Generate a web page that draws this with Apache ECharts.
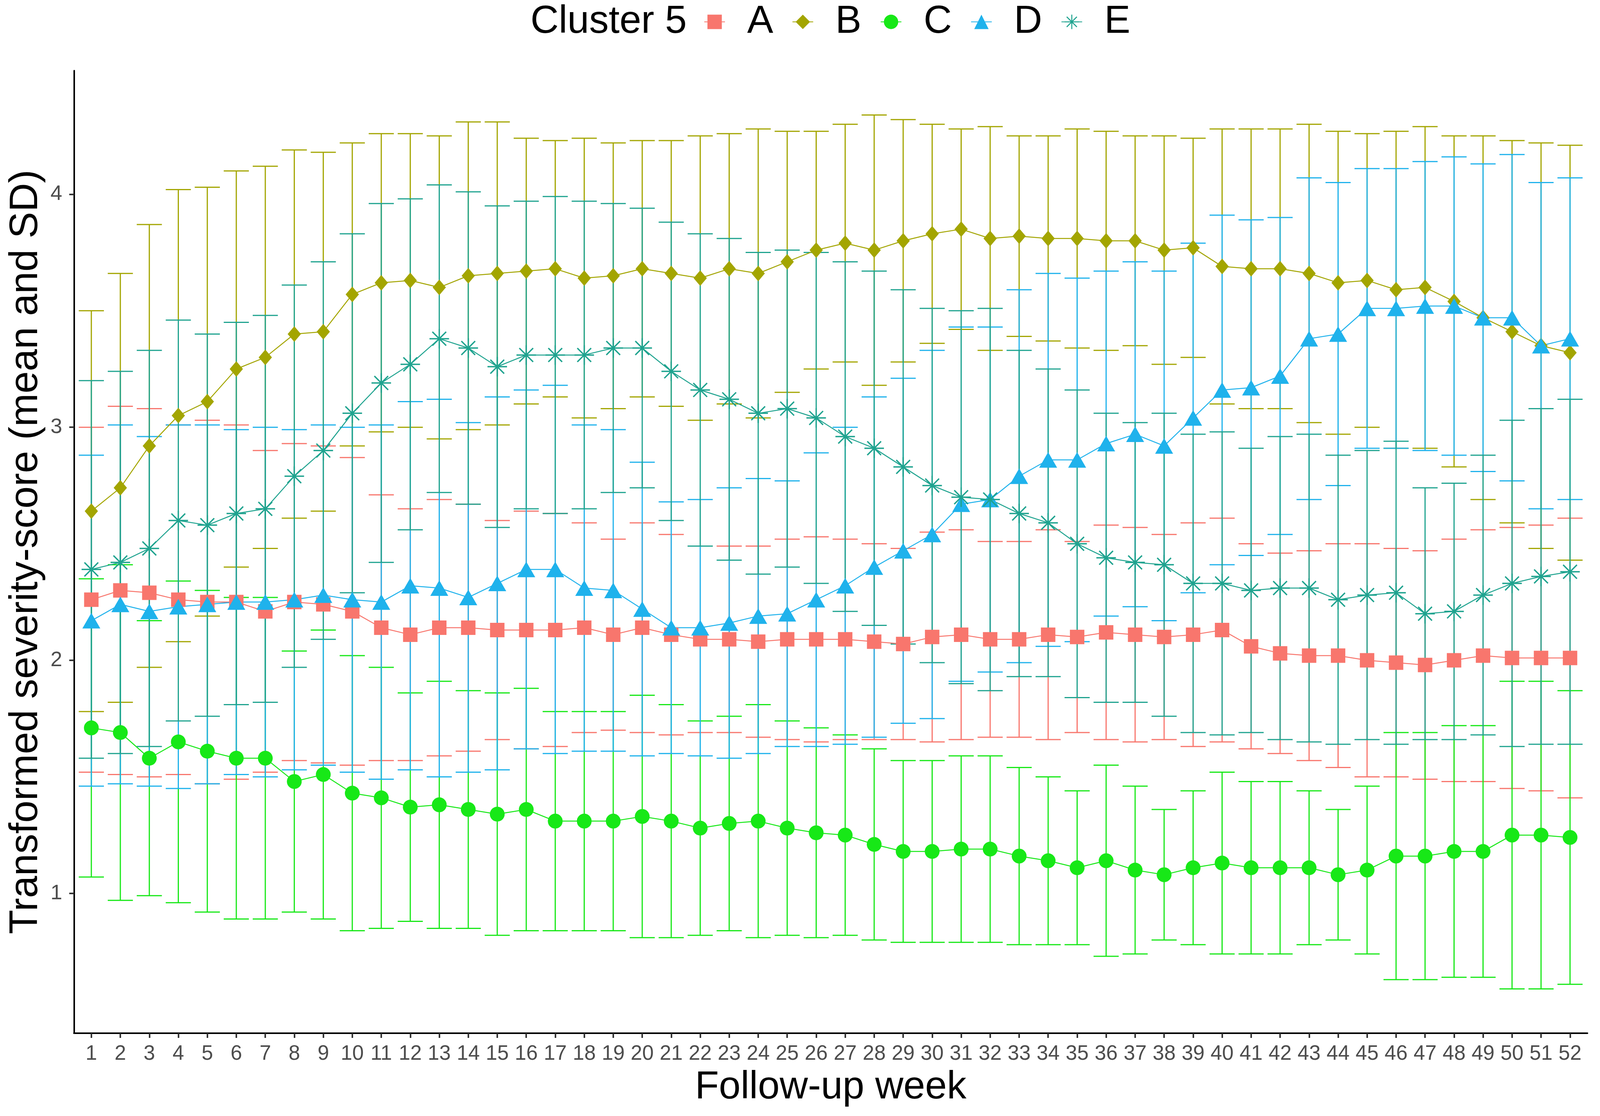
<!DOCTYPE html>
<html>
<head>
<meta charset="utf-8">
<title>Cluster 5</title>
<script src="https://cdn.jsdelivr.net/npm/echarts@6/dist/echarts.min.js"></script>
<style>
  html, body { margin: 0; padding: 0; background: #fff; overflow: hidden; }
  #main { width: 100vw; height: 100vh; }
</style>
</head>
<body>
<div id="main"></div>
<script>
// follow-up weeks
var weeks = [1,2,3,4,5,6,7,8,9,10,11,12,13,14,15,16,17,18,19,20,21,22,23,24,25,26,
             27,28,29,30,31,32,33,34,35,36,37,38,39,40,41,42,43,44,45,46,47,48,49,50,51,52];
var yTicks = [1, 2, 3, 4];
var clusters = ['A', 'B', 'C', 'D', 'E'];

// mean and SD per cluster
var meanA = [2.26,2.30,2.29,2.26,2.25,2.25,2.21,2.25,2.24,2.21,2.14,2.11,2.14,2.14,2.13,2.13,2.13,2.14,2.11,2.14,2.11,2.09,2.09,2.08,2.09,2.09,
             2.09,2.08,2.07,2.10,2.11,2.09,2.09,2.11,2.10,2.12,2.11,2.10,2.11,2.13,2.06,2.03,2.02,2.02,2.00,1.99,1.98,2.00,2.02,2.01,2.01,2.01];
var sdA   = [0.74,0.79,0.79,0.75,0.78,0.76,0.69,0.68,0.68,0.66,0.57,0.54,0.55,0.53,0.47,0.51,0.50,0.45,0.41,0.45,0.43,0.40,0.40,0.41,0.43,0.44,
             0.43,0.42,0.41,0.45,0.45,0.42,0.42,0.45,0.41,0.46,0.46,0.44,0.48,0.48,0.44,0.43,0.45,0.48,0.50,0.49,0.49,0.52,0.54,0.56,0.57,0.60];
var meanB = [2.64,2.74,2.92,3.05,3.11,3.25,3.30,3.40,3.41,3.57,3.62,3.63,3.60,3.65,3.66,3.67,3.68,3.64,3.65,3.68,3.66,3.64,3.68,3.66,3.71,3.76,
             3.79,3.76,3.80,3.83,3.85,3.81,3.82,3.81,3.81,3.80,3.80,3.76,3.77,3.69,3.68,3.68,3.66,3.62,3.63,3.59,3.60,3.54,3.47,3.41,3.35,3.32];
var sdB   = [0.86,0.92,0.95,0.97,0.92,0.85,0.82,0.79,0.77,0.65,0.64,0.63,0.65,0.66,0.65,0.57,0.55,0.60,0.57,0.55,0.57,0.61,0.58,0.62,0.56,0.51,
             0.51,0.58,0.52,0.47,0.43,0.48,0.43,0.44,0.47,0.47,0.45,0.49,0.47,0.59,0.60,0.60,0.64,0.65,0.63,0.68,0.69,0.71,0.78,0.82,0.87,0.89];
var meanC = [1.71,1.69,1.58,1.65,1.61,1.58,1.58,1.48,1.51,1.43,1.41,1.37,1.38,1.36,1.34,1.36,1.31,1.31,1.31,1.33,1.31,1.28,1.30,1.31,1.28,1.26,
             1.25,1.21,1.18,1.18,1.19,1.19,1.16,1.14,1.11,1.14,1.10,1.08,1.11,1.13,1.11,1.11,1.11,1.08,1.10,1.16,1.16,1.18,1.18,1.25,1.25,1.24];
var sdC   = [0.64,0.72,0.59,0.69,0.69,0.69,0.69,0.56,0.62,0.59,0.56,0.49,0.53,0.51,0.52,0.52,0.47,0.47,0.47,0.52,0.50,0.46,0.46,0.50,0.46,0.45,
             0.43,0.41,0.39,0.39,0.40,0.40,0.38,0.36,0.33,0.41,0.36,0.28,0.33,0.39,0.37,0.37,0.33,0.28,0.36,0.53,0.53,0.54,0.54,0.66,0.66,0.63];
var meanD = [2.17,2.24,2.21,2.23,2.24,2.25,2.25,2.26,2.28,2.26,2.25,2.32,2.31,2.27,2.33,2.39,2.39,2.31,2.30,2.22,2.14,2.14,2.16,2.19,2.20,2.26,
             2.32,2.40,2.47,2.54,2.67,2.69,2.79,2.86,2.86,2.93,2.97,2.92,3.04,3.16,3.17,3.22,3.38,3.40,3.51,3.51,3.52,3.52,3.47,3.47,3.35,3.38];
var sdD   = [0.71,0.77,0.75,0.78,0.77,0.74,0.75,0.73,0.73,0.74,0.76,0.79,0.81,0.75,0.80,0.77,0.79,0.70,0.69,0.63,0.54,0.55,0.58,0.59,0.57,0.63,
             0.68,0.73,0.74,0.79,0.76,0.74,0.80,0.80,0.78,0.74,0.74,0.75,0.75,0.75,0.72,0.68,0.69,0.65,0.60,0.60,0.62,0.64,0.66,0.70,0.70,0.69];
var meanE = [2.39,2.42,2.48,2.60,2.58,2.63,2.65,2.79,2.90,3.06,3.19,3.27,3.38,3.34,3.26,3.31,3.31,3.31,3.34,3.34,3.24,3.16,3.12,3.06,3.08,3.04,
             2.96,2.91,2.83,2.75,2.70,2.69,2.63,2.59,2.50,2.44,2.42,2.41,2.33,2.33,2.30,2.31,2.31,2.26,2.28,2.29,2.20,2.21,2.28,2.33,2.36,2.38];
var sdE   = [0.81,0.82,0.85,0.86,0.82,0.82,0.83,0.82,0.81,0.77,0.77,0.71,0.66,0.67,0.69,0.66,0.68,0.66,0.62,0.60,0.64,0.67,0.69,0.69,0.68,0.71,
             0.75,0.76,0.76,0.76,0.80,0.82,0.70,0.66,0.66,0.62,0.60,0.65,0.64,0.65,0.61,0.65,0.66,0.62,0.62,0.65,0.54,0.55,0.60,0.70,0.72,0.74];

var means = [meanA, meanB, meanC, meanD, meanE];
var sds = [sdA, sdB, sdC, sdD, sdE];
var colors = ['#F8766D', '#A3A500', '#17E817', '#1FB2EC', '#1FA38F'];
var FONT = 'Liberation Sans, Arial, sans-serif';

// asterisk (ggplot shape 8): four thin spokes
function asteriskPath(h) {
  var d = '';
  [0, 45, 90, 135].forEach(function (deg) {
    var a = deg * Math.PI / 180, c = Math.cos(a), s = Math.sin(a);
    var px = -s * h, py = c * h;
    var p = [[c + px, s + py], [c - px, s - py], [-c - px, -s - py], [-c + px, -s + py]];
    d += 'M' + p.map(function (q) { return q[0].toFixed(3) + ' ' + q[1].toFixed(3); }).join(' L') + ' Z ';
  });
  return 'path://' + d;
}

var symbols = ['rect', 'diamond', 'circle', 'triangle', asteriskPath(0.07)];
var symbolSizes = [37, [34, 40], 38, [46, 40], 50];

var myChart = echarts.init(document.getElementById('main'));
// the layout was measured on a 4328 px wide picture; scale x positions to the real width
var sx = myChart.getWidth() / 4328;
var series = [];

// error bars first, so the lines and points sit on top
clusters.forEach(function (name, i) {
  var bars = weeks.map(function (w, j) {
    return [w, means[i][j] - sds[i][j], means[i][j] + sds[i][j]];
  });
  series.push({
    type: 'custom',
    name: name + ' SD',
    data: bars,
    silent: true,
    z: 1,
    encode: { x: 0, y: [1, 2] },
    renderItem: function (params, api) {
      var x = api.value(0);
      var lo = api.coord([x, api.value(1)]);
      var hi = api.coord([x, api.value(2)]);
      var hw = 34 * sx;
      var st = { stroke: colors[i], lineWidth: 3 };
      return {
        type: 'group',
        children: [
          { type: 'line', shape: { x1: lo[0], y1: lo[1], x2: hi[0], y2: hi[1] }, style: st },
          { type: 'line', shape: { x1: lo[0] - hw, y1: lo[1], x2: lo[0] + hw, y2: lo[1] }, style: st },
          { type: 'line', shape: { x1: hi[0] - hw, y1: hi[1], x2: hi[0] + hw, y2: hi[1] }, style: st }
        ]
      };
    }
  });
});

clusters.forEach(function (name, i) {
  series.push({
    type: 'line',
    name: name,
    data: weeks.map(function (w, j) { return [w, means[i][j]]; }),
    symbol: symbols[i],
    symbolSize: symbolSizes[i],
    showAllSymbol: true,
    lineStyle: { color: colors[i], width: 2.5 },
    itemStyle: { color: colors[i] },
    z: 3
  });
});

var iconW = 56 * sx;
var textPad = 60 * sx - 5;

var option = {
  animation: false,
  backgroundColor: '#fff',
  graphic: [{
    type: 'text',
    left: 1435 * sx,
    top: 6,
    style: { text: 'Cluster 5', font: '100px ' + FONT, fill: '#000' }
  }],
  legend: {
    data: clusters,
    left: 1904 * sx,
    top: 6,
    padding: 0,
    itemWidth: iconW,
    itemHeight: 46,
    itemGap: 240 * sx - iconW - 5 - textPad - 69,
    selectedMode: false,
    textStyle: { fontSize: 100, fontFamily: FONT, color: '#000', padding: [0, 0, 0, textPad] }
  },
  grid: { left: 200 * sx, right: 34 * sx, top: 181, bottom: 212 },
  xAxis: {
    type: 'value',
    min: 0.4,
    max: 52.6,
    name: 'Follow-up week',
    nameLocation: 'middle',
    nameGap: 89,
    nameTextStyle: { fontSize: 100, fontFamily: FONT, color: '#000' },
    axisLine: { lineStyle: { color: '#000', width: 4 } },
    axisTick: { customValues: weeks, length: 12, lineStyle: { color: '#333', width: 4 } },
    axisLabel: { customValues: weeks, fontSize: 53, fontFamily: FONT, color: '#4D4D4D', margin: 27 },
    splitLine: { show: false }
  },
  yAxis: {
    type: 'value',
    min: 0.4,
    max: 4.53,
    name: 'Transformed severity-score (mean and SD)',
    nameLocation: 'middle',
    nameGap: 65,
    nameTextStyle: { fontSize: 102, fontFamily: FONT, color: '#000' },
    axisLine: { show: true, lineStyle: { color: '#000', width: 4 } },
    axisTick: { show: true, customValues: yTicks, length: 12, lineStyle: { color: '#333', width: 4 } },
    axisLabel: { customValues: yTicks, fontSize: 54, fontFamily: FONT, color: '#4D4D4D', margin: 30 },
    splitLine: { show: false }
  },
  series: series
};

myChart.setOption(option);
</script>
</body>
</html>
